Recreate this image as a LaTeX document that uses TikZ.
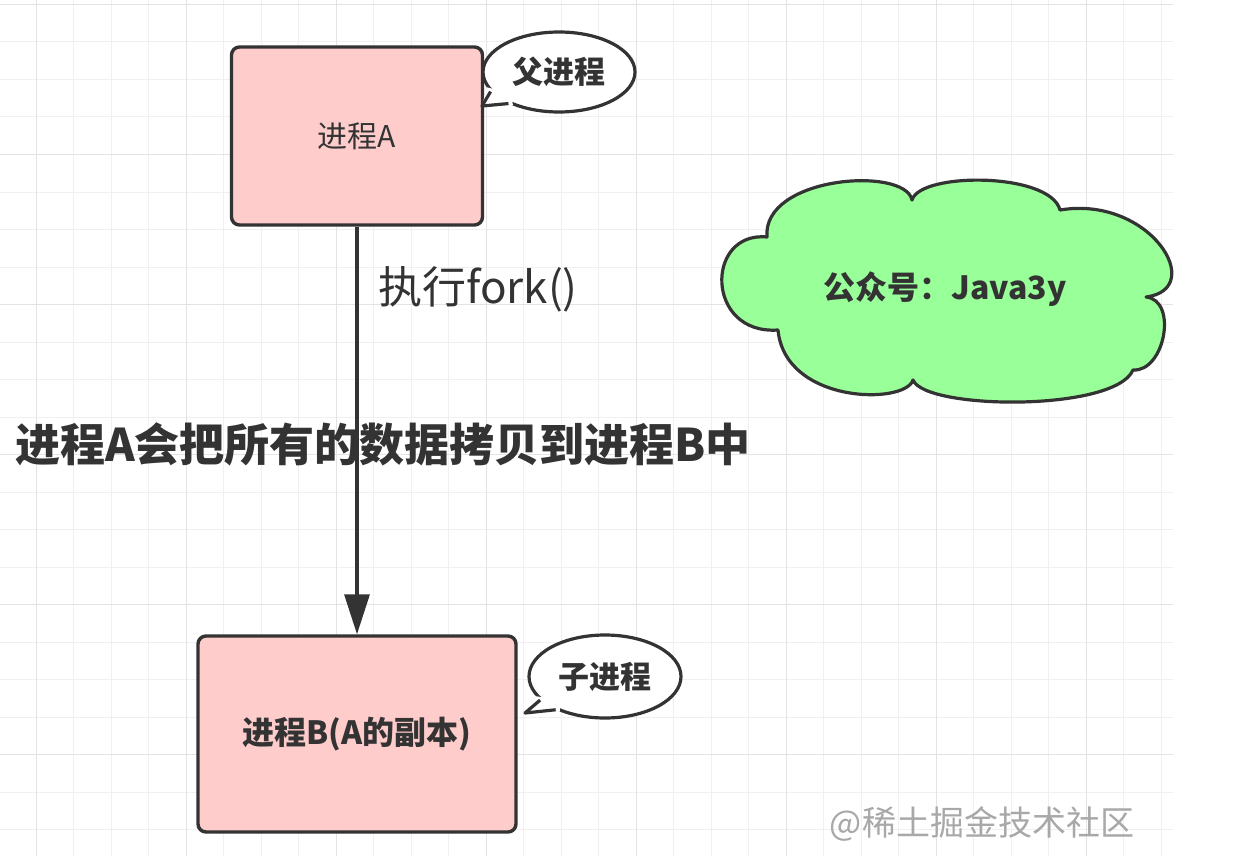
\documentclass[tikz,border=0pt]{standalone}
\usepackage{fontspec}
\setmainfont{Noto Sans CJK SC}
\usetikzlibrary{arrows.meta,shapes.geometric,calc}
\definecolor{ink}{HTML}{333333}
\definecolor{boxfill}{HTML}{FFCCCC}
\definecolor{cloudfill}{HTML}{99FF99}
\definecolor{gridminor}{HTML}{F0F0F0}
\definecolor{gridmajor}{HTML}{E3E3E3}
\definecolor{markgray}{HTML}{A8A8A8}
\begin{document}
\begin{tikzpicture}[x=1pt,y=-1pt,
  procbox/.style={draw=ink, fill=boxfill, line width=3.4pt, rounded corners=8pt, inner sep=0pt, text=ink},
  bubble/.style={draw=ink, fill=white, line width=3.2pt, ellipse, inner sep=0pt, text=ink},
  flow/.style={draw=ink, line width=3.2pt, -{Triangle[length=40pt,width=25pt]}},
  tailside/.style={draw=ink, line width=3.2pt, line join=round},
  minorline/.style={draw=gridminor, line width=1pt},
  majorline/.style={draw=gridmajor, line width=1pt},
]
\useasboundingbox[fill=white] (0,0) rectangle (1237,856);
% grid
\foreach \k in {1,...,31} {\draw[minorline] ({-1.5+37.5*\k},0) -- ({-1.5+37.5*\k},856);}
\foreach \k in {0,...,22} {\draw[minorline] (0,{4.5+37.5*\k}) -- (1173,{4.5+37.5*\k});}
\foreach \k in {0,...,7} {\draw[majorline] ({36+150*\k},0) -- ({36+150*\k},856);}
\foreach \k in {0,...,5} {\draw[majorline] (0,{4.5+150*\k}) -- (1173,{4.5+150*\k});}

% process boxes
\node[procbox, minimum width=251pt, minimum height=178pt,
      font=\fontsize{30}{30}\selectfont] (A) at (357,136) {进程A};
\node[procbox, minimum width=318pt, minimum height=196pt,
      font=\fontsize{32}{32}\selectfont\bfseries] (B) at (357,734) {进程B(A的副本)};

% arrow
\draw[flow] (A.south) -- (B.north);

% labels
\node[anchor=west, text=ink, inner sep=0pt, font=\fontsize{44}{44}\selectfont] (forklbl) at (378,289) {执行fork()};
\node[text=ink, inner sep=0pt, font=\fontsize{45}{45}\selectfont\bfseries] (copylbl) at (383,444) {进程A会把所有的数据拷贝到进程B中};

% bubble: parent
\node[bubble, minimum width=152pt, minimum height=80pt,
      font=\fontsize{31}{31}\selectfont\bfseries] (P) at (559,72) {父进程};
\coordinate (Ptip) at (482,106);
\fill[white] (P.192) -- (Ptip) -- (P.216) -- ($(P.center)!0.8!(P.204)$) -- cycle;
\draw[tailside] (P.196) -- (Ptip) -- (P.212);

% bubble: child
\node[bubble, minimum width=152pt, minimum height=83pt,
      font=\fontsize{31}{31}\selectfont\bfseries] (C) at (605,676.5) {子进程};
\coordinate (Ctip) at (525,713);
\fill[white] (C.196) -- (Ctip) -- (C.218) -- ($(C.center)!0.8!(C.207)$) -- cycle;
\draw[tailside] (C.200) -- (Ctip) -- (C.214);

% cloud
\path[draw=ink, fill=cloudfill, line width=3.2pt, line join=round]
 (767,237) .. controls (762,176) and (905,166) .. (912,200)
 .. controls (920,172) and (1050,172) .. (1060,210)
 .. controls (1150,195) and (1208,289) .. (1146,297)
 .. controls (1178,300) and (1165,372) .. (1133,370)
 .. controls (1115,412) and (925,410) .. (913,380)
 .. controls (905,405) and (785,404) .. (778,330)
 .. controls (705,335) and (705,231) .. (767,237) -- cycle;
\node[text=ink, inner sep=0pt, font=\fontsize{32}{32}\selectfont\bfseries] (cloudtxt) at (945,289) {公众号：Java3y};

% watermark
\node[text=markgray, inner sep=0pt, font=\fontsize{34}{34}\selectfont] (mark) at (982,824) {@稀土掘金技术社区};
\end{tikzpicture}
\end{document}
